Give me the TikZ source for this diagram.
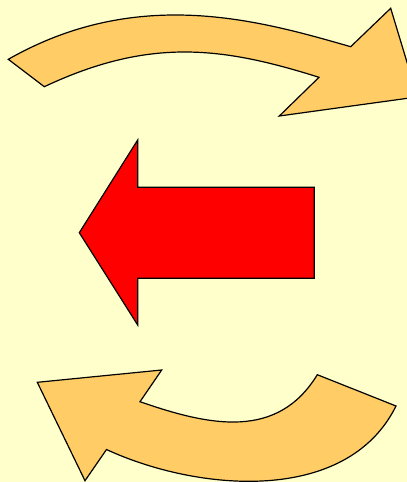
\documentclass[tikz,border=0pt]{standalone}
\begin{document}
\begin{tikzpicture}[x=1pt,y=-1pt,
  arrowshape/.style={draw=black,line width=1.2pt,line join=miter},
  curvedarrow/.style={arrowshape,fill=arrowgold},
  straightarrow/.style={arrowshape,fill=red}]
\definecolor{bgyellow}{HTML}{FFFFCC}
\definecolor{arrowgold}{HTML}{FFCC66}
\useasboundingbox (0,0) rectangle (407,482);
\fill[bgyellow] (0,0) rectangle (407,482);
\clip (0,0) rectangle (407,482);
% top curved arrow
\draw[curvedarrow] (8.3,59.3) .. controls (138.8,-15.1) and (261.2,21.1) .. (350.7,46.7)
  -- (390.7,8.3) -- (417.5,96.9) -- (279.3,116) -- (319,77.3)
  .. controls (222.4,46.9) and (149.8,37.1) .. (44.3,86.7)
  -- cycle;
% red left arrow
\draw[straightarrow] (79.3,232.7) -- (137.7,140) -- (137.7,187.3) -- (314.3,187.3) -- (314.3,278.3) -- (137.7,278.3) -- (137.7,325) -- cycle;
% bottom curved arrow
\draw[curvedarrow] (37.3,382.3) -- (161.7,370) -- (140,401.7)
  .. controls (210.1,426.1) and (277.5,440.0) .. (317.3,374.7)
  -- (396,406)
  .. controls (346.7,505.6) and (196.5,491.2) .. (106.5,449.5)
  -- (85,480.7) -- cycle;
\end{tikzpicture}
\end{document}
